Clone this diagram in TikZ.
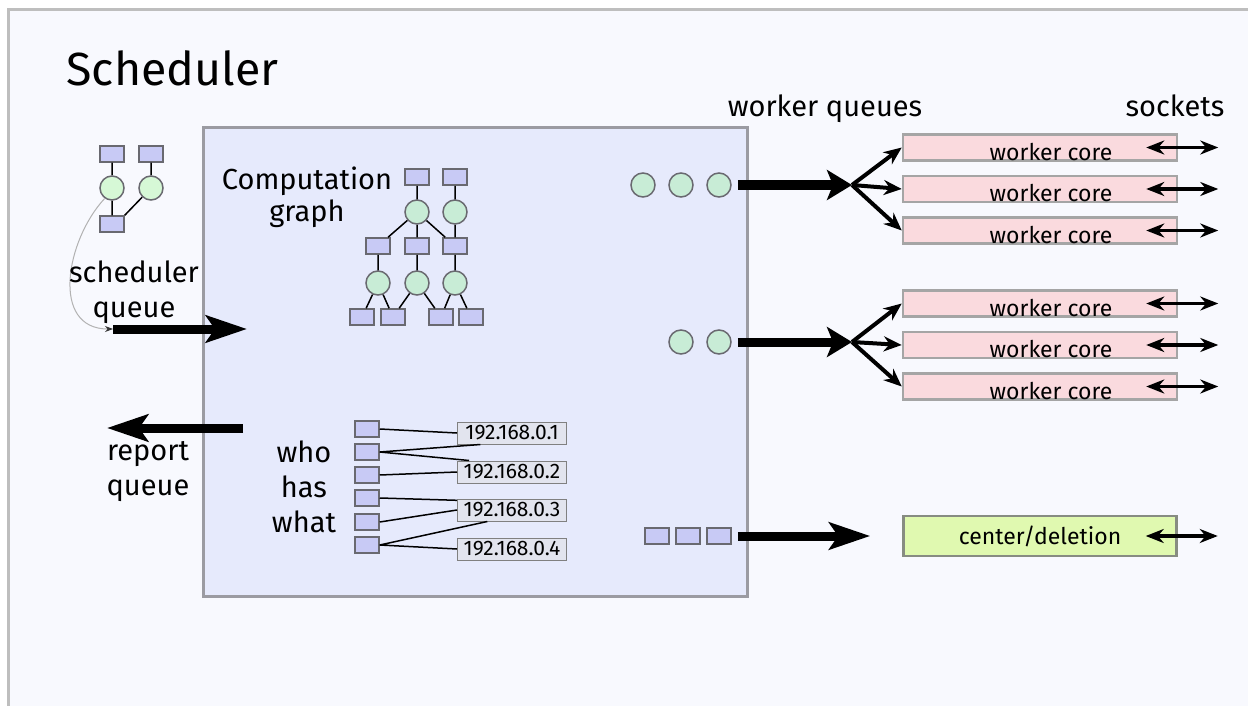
\documentclass[tikz,border=0pt]{standalone}
\usepackage{fontspec}
\setmainfont{Fira Sans}
\usetikzlibrary{arrows.meta,positioning}

\definecolor{paper}{RGB}{248,249,254}
\definecolor{frame}{RGB}{190,190,190}
\definecolor{schedfill}{RGB}{230,234,252}
\definecolor{schededge}{RGB}{155,155,162}
\definecolor{taskfill}{RGB}{200,202,245}
\definecolor{nodeedge}{RGB}{105,105,112}
\definecolor{datafill}{RGB}{200,236,214}
\definecolor{newdata}{RGB}{214,248,214}
\definecolor{workfill}{RGB}{250,218,222}
\definecolor{workedge}{RGB}{165,165,165}
\definecolor{centerfill}{RGB}{224,249,176}
\definecolor{centeredge}{RGB}{135,140,130}
\definecolor{ipfill}{RGB}{226,228,238}

\begin{document}
\begin{tikzpicture}[x=1pt, y=-1pt,
        task/.style={draw=nodeedge, fill=taskfill, line width=1.5pt,
                minimum width=24pt, minimum height=16pt, inner sep=0pt},
        data/.style={circle, draw=nodeedge, fill=datafill, line width=1.5pt,
                minimum size=24pt, inner sep=0pt},
        dep/.style={line width=1.5pt},
        caption/.style={font=\fontsize{29}{35}\selectfont, align=center},
        core text/.style={font=\fontsize{23}{27}\selectfont, xshift=11pt, yshift=-4.5pt},
        worker/.style={draw=workedge, fill=workfill, line width=2.5pt,
                minimum width=274pt, minimum height=26pt, inner sep=0pt,
                label={[core text]center:worker core}},
        ip/.style={draw=gray, fill=ipfill, line width=1pt, minimum width=109pt,
                minimum height=22pt, inner sep=0pt, font=\fontsize{21}{24}\selectfont},
        queue/.style={line width=9pt, -{Stealth[length=41pt, width=27pt, inset=9pt]}},
        fork/.style={line width=9pt, -{Stealth[length=25pt, width=30pt, inset=6pt]}},
        fan/.style={line width=4pt, -{Stealth[length=18pt, width=15pt]}},
        socket/.style={line width=3.5pt,
                {Stealth[length=18pt, width=14pt]}-{Stealth[length=18pt, width=14pt]}},
        node distance=13pt]

        \useasboundingbox (0,0) rectangle (1248,706);
        \fill[white] (0,0) rectangle (1248,706);
        \fill[paper] (8,10) rectangle (1248,706);
        \draw[frame, line width=3pt] (8,706) -- (8,10) -- (1248,10);

        \node[anchor=base west, font=\fontsize{46.5}{52}\selectfont] (title) at (63,86) {Scheduler};

        % the scheduler itself
        \node[draw=schededge, fill=schedfill, line width=3pt, minimum width=544pt,
                minimum height=469pt, inner sep=0pt] (sched) at (475.5,362) {};

        % new tasks coming in
        \node[task] (in a) at (112,154) {};
        \node[task] (in b) at (151,154) {};
        \node[data, fill=newdata] (in c) at (112,188) {};
        \node[data, fill=newdata] (in d) at (151,188) {};
        \node[task] (in e) at (112,224) {};
        \draw[dep] (in a) -- (in c) (in b) -- (in d) (in c) -- (in e) (in d) -- (in e.north east);

        \coordinate (sq tail) at (113,329);
        \coordinate (sq head) at (247,329);
        \draw[gray!60, line width=1pt, -{Stealth[length=8pt, width=6pt, black!80]}]
                (in c.235) .. controls (66,240) and (50,329) .. (sq tail);
        \draw[queue] (sq tail) -- (sq head);
        \node[caption] (sq label) at (134,292) {scheduler\\queue};

        \coordinate (rq tail) at (243,428);
        \coordinate (rq head) at (107,428);
        \draw[queue] (rq tail) -- (rq head);
        \node[caption] (rq label) at (148,472) {report\\queue};

        % computation graph
        \node[caption, font=\fontsize{29}{32}\selectfont] (graph label) at (307,197) {Computation\\graph};
        \node[task] (g1) at (417,177) {};
        \node[task] (g2) at (455,177) {};
        \node[data] (g3) at (417,212) {};
        \node[data] (g4) at (455,212) {};
        \node[task] (g5) at (378,246) {};
        \node[task] (g6) at (417,246) {};
        \node[task] (g7) at (455,246) {};
        \node[data] (g8) at (378,283) {};
        \node[data] (g9) at (417,283) {};
        \node[data] (g10) at (455,283) {};
        \node[task] (g11) at (362,317) {};
        \node[task] (g12) at (393,317) {};
        \node[task] (g13) at (441,317) {};
        \node[task] (g14) at (471,317) {};
        \draw[dep] (g1) -- (g3) (g2) -- (g4)
                (g3) -- (g5) (g3) -- (g6) (g3) -- (g7) (g4) -- (g7)
                (g5) -- (g8) (g6) -- (g9) (g7) -- (g10)
                (g8) -- (g11) (g8) -- (g12) (g9) -- (g12) (g9) -- (g13)
                (g10) -- (g13) (g10) -- (g14);

        % who has what
        \node[caption] (who label) at (304,487) {who\\has\\what};
        \foreach \i/\y in {1/429, 2/452, 3/475, 4/498, 5/522, 6/545}
                \node[task] (h\i) at (367,\y) {};
        \node[ip] (ip1) at (512,433) {192.168.0.1};
        \node[ip] (ip2) at (512,472) {192.168.0.2};
        \node[ip] (ip3) at (512,510) {192.168.0.3};
        \node[ip] (ip4) at (512,549) {192.168.0.4};
        \draw[dep] (h1.east) -- (ip1.west) (h2.east) -- (ip1.200)
                (h2.east) -- (ip2.165) (h3.east) -- (ip2.west)
                (h4.east) -- (ip3.170) (h5.east) -- (ip3.west)
                (h6.east) -- (ip3.205) (h6.east) -- (ip4.west);

        % worker queues
        \node[data] (q1a) at (643,185) {};
        \node[data] (q1b) at (681,185) {};
        \node[data] (q1c) at (719,185) {};
        \node[data] (q2a) at (681,342) {};
        \node[data] (q2b) at (719,342) {};
        \node[task] (q3a) at (657,536) {};
        \node[task] (q3b) at (688,536) {};
        \node[task] (q3c) at (719,536) {};

        \node[caption, anchor=base] (wq label) at (825,117) {worker queues};
        \node[caption, anchor=base] (sock label) at (1175,117) {sockets};

        % workers
        \node[worker] (w1) at (1040,147.5) {};
        \node[worker, below=of w1] (w2) {};
        \node[worker, below=of w2] (w3) {};
        \node[worker] (w4) at (1040,303.5) {};
        \node[worker, below=of w4] (w5) {};
        \node[worker, below=of w5] (w6) {};
        \node[draw=centeredge, fill=centerfill, line width=2.5pt, minimum width=273pt,
                minimum height=40pt, inner sep=0pt, font=\fontsize{23}{27}\selectfont]
                (cd) at (1040,536) {center/deletion};

        \coordinate (fork a) at (852,185);
        \coordinate (fork b) at (852,342);
        \draw[fork, shorten <=6pt] (q1c) -- (fork a);
        \draw[fork, shorten <=6pt] (q2b) -- (fork b);
        \draw[queue, shorten <=6pt, shorten >=32pt] (q3c) -- (cd);
        \foreach \w in {w1, w2, w3}
                \draw[fan] (fork a) -- (\w.west);
        \foreach \w in {w4, w5, w6}
                \draw[fan] (fork b) -- (\w.west);

        % sockets
        \foreach \w in {w1, w2, w3, w4, w5, w6, cd}
                \draw[socket] ([xshift=-32pt]\w.east) -- ++(72,0);
\end{tikzpicture}
\end{document}
